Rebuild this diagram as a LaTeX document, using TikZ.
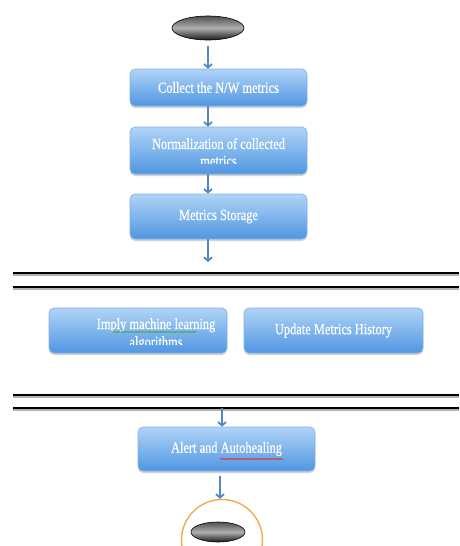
\documentclass[tikz,border=0pt]{standalone}
\usepackage{fontspec}
\setmainfont[FakeStretch=0.8,FakeBold=0.5]{Liberation Serif}
\usetikzlibrary{shadows,arrows.meta,decorations.pathmorphing,shapes.geometric}
\definecolor{boxtop}{RGB}{176,212,246}
\definecolor{boxbot}{RGB}{80,150,226}
\definecolor{boxline}{RGB}{128,178,230}
\definecolor{arrowc}{RGB}{84,136,196}
\definecolor{ringc}{RGB}{242,170,76}
\definecolor{wavegreen}{RGB}{60,170,60}
\definecolor{wavered}{RGB}{220,40,40}
\definecolor{ovaltop}{RGB}{80,80,80}
\definecolor{ovalmid}{RGB}{175,175,175}
\definecolor{ovalbot}{RGB}{25,25,25}
\begin{document}
\begin{tikzpicture}[x=1pt,y=-1pt,
  procbox/.style={rounded corners=5pt, draw=boxline, line width=0.6pt,
    top color=boxtop, bottom color=boxbot, text=white,
    font=\fontsize{15.5}{18}\selectfont, align=center, inner sep=0pt,
    drop shadow={opacity=0.35, shadow xshift=0pt, shadow yshift=-2pt}},
  boxtext/.style={text=white, font=\fontsize{15.5}{18}\selectfont, inner sep=0pt},
  arr/.style={draw=arrowc, line width=1.8pt, -{Straight Barb[length=3.5pt,width=8pt]}},
  endoval/.style={ellipse, draw=black, line width=0.6pt, inner sep=0pt,
    shading=axis, top color=ovaltop, bottom color=ovalbot, middle color=ovalmid},
  sepline/.style={draw=black, line width=1.8pt},
  sepshadow/.style={draw=black, opacity=0.3, line width=2.2pt},
  wavy/.style={decorate, decoration={snake, amplitude=0.7pt, segment length=2.6pt}, line width=0.6pt}
]
\useasboundingbox (0,0) rectangle (459,546);

% start oval
\node[endoval, minimum width=72pt, minimum height=24pt] (start) at (208,28) {};

% process boxes
\node[procbox, minimum width=177pt, minimum height=37pt] (b1) at (218.5,87.5) {Collect the N/W metrics};
\node[procbox, minimum width=177pt, minimum height=47pt] (b2) at (218.5,150.5) {};
\node[boxtext, anchor=base] (b2a) at (218.5,149) {Normalization of collected};
\begin{scope}
  \clip (130,127) rectangle (307,163);
  \node[boxtext, anchor=base] (b2b) at (218.5,166) {metrics};
\end{scope}
\node[procbox, minimum width=177pt, minimum height=45pt] (b3) at (218.5,216.5) {Metrics Storage};

% arrows top part
\draw[arr, shorten <=6pt] (start.south) -- (start.south |- b1.north);
\draw[arr] (b1.south -| start.south) -- (b2.north -| start.south);
\draw[arr] (b2.south -| start.south) -- (b3.north -| start.south);
\coordinate (c1) at (208,262);
\draw[arr] (b3.south -| c1) -- (c1);

% separator lines
\foreach \yy in {273,287,395,408} {
  \draw[sepshadow] (13,\yy+1.6) -- (459,\yy+1.6);
  \draw[sepline] (13,\yy) -- (459,\yy);
}

% middle boxes
\node[procbox, minimum width=178pt, minimum height=45pt] (ml) at (138,330.5) {};
\node[boxtext, anchor=base] (mla) at (156,329) {Imply machine learning};
\begin{scope}
  \clip (49,308) rectangle (227,344.5);
  \node[boxtext, anchor=base] (mlb) at (156,347) {algorithms};
\end{scope}
\draw[wavegreen, wavy] (111,332) -- (197,332);
\node[procbox, minimum width=179pt, minimum height=45pt] (hist) at (333.5,330.5) {Update Metrics History};

% alert box
\coordinate (c2) at (222,408);
\node[procbox, minimum width=177pt, minimum height=44pt] (alert) at (226.5,449) {Alert and Autohealing};
\draw[wavered, wavy] (220,459) -- (283,459);
\draw[arr] (c2) -- (c2 |- alert.north);

% end
\node[circle, draw=ringc, line width=1.4pt, minimum size=81pt, inner sep=0pt] (ring) at (222,540) {};
\node[endoval, minimum width=54pt, minimum height=20pt] (stop) at (218,532) {};
\draw[arr, shorten <=5pt] (alert.south -| 220,0) -- (220,0 |- ring.north);
\end{tikzpicture}
\end{document}
